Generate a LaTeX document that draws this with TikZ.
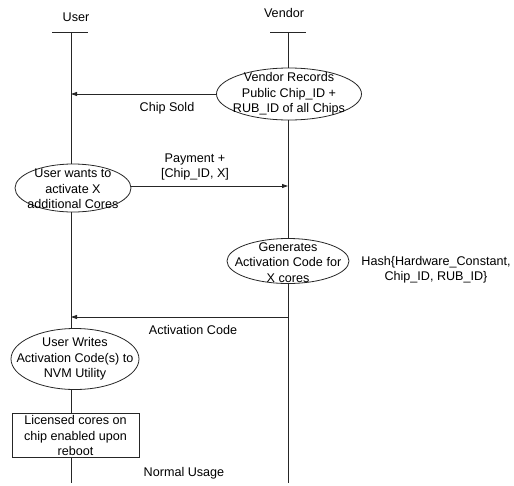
\documentclass[tikz,border=0pt]{standalone}
\usepackage{fontspec}
\setmainfont{Liberation Sans}
\usetikzlibrary{shapes.geometric,arrows.meta}
\begin{document}
\begin{tikzpicture}[x=1pt,y=-1pt,
  every node/.style={font=\fontsize{12.6}{15.5}\selectfont, inner sep=0pt, align=center},
  life/.style={line width=0.8pt, draw=black!85},
  msg/.style={line width=0.8pt, draw=black!85, -{Triangle[length=6pt,width=4pt]}},
  act/.style={ellipse, draw=black!85, line width=0.8pt, fill=white},
  stepbox/.style={rectangle, draw=black!85, line width=0.8pt, fill=white}]
\useasboundingbox (0,0) rectangle (514,485);

% actors and their head bars
\node (user) at (76,17) {User};
\node (vendor) at (284,13) {Vendor};
\coordinate (ubl) at (52,32); \coordinate (ubr) at (88,32);
\coordinate (vbl) at (270,32); \coordinate (vbr) at (306,32);
\coordinate (utop) at (71,32);
\coordinate (vtop) at (288,32);
\draw[life] (ubl) -- (ubr);
\draw[life] (vbl) -- (vbr);

% activities (outline sized on its own, text laid over it)
\node[act, minimum width=145, minimum height=52,
  label={center:Vendor Records\\Public Chip\_ID +\\RUB\_ID of all Chips}] (vrec) at (289,94) {};
\node[act, minimum width=116, minimum height=48,
  label={[yshift=-1pt]center:User wants to\\activate X\\additional Cores}] (uact) at (73,188) {};
\node[act, minimum width=122, minimum height=45,
  label={[yshift=-1.5pt]center:Generates\\Activation Code for\\X cores}] (vgen) at (288,261) {};
\node[act, minimum width=128, minimum height=61,
  label={center:User Writes\\Activation Code(s) to\\NVM Utility}] (uwrite) at (75,359) {};
\node[stepbox, minimum width=127, minimum height=44] (ubox) at (75.5,435.5)
  {Licensed cores on\\chip enabled upon\\reboot};

\node (hash) at (436,269.5) {Hash\{Hardware\_Constant,\\Chip\_ID, RUB\_ID\}};

% lifelines
\coordinate (uend) at (71,483);
\coordinate (vend) at (288,483);
\draw[life] (utop) -- (uact.north -| utop);
\draw[life] (uact.south -| utop) -- (uwrite.north -| utop);
\draw[life] (uwrite.south -| utop) -- (ubox.north -| utop);
\draw[life] (ubox.south -| utop) -- (uend);
\draw[life] (vtop) -- (vrec.north -| vtop);
\draw[life] (vrec.south -| vtop) -- (vgen.north -| vtop);
\draw[life] (vgen.south -| vtop) -- (vend);

% messages
\coordinate (soldend) at (71,94);
\coordinate (payend) at (288,186);
\coordinate (codestart) at (288,317);
\coordinate (codeend) at (71,317);
\draw[msg] (vrec.west |- soldend) -- (soldend);
\node (soldlbl) at (167,108.5) {Chip Sold};
\draw[msg] (uact.east |- payend) -- (payend);
\node (paylbl) at (195,167) {Payment +\\{}[Chip\_ID, X]};
\draw[msg] (codestart) -- (codeend);
\node (codelbl) at (193,330) {Activation Code};
\node (usage) at (184,473) {Normal Usage};
\end{tikzpicture}
\end{document}
